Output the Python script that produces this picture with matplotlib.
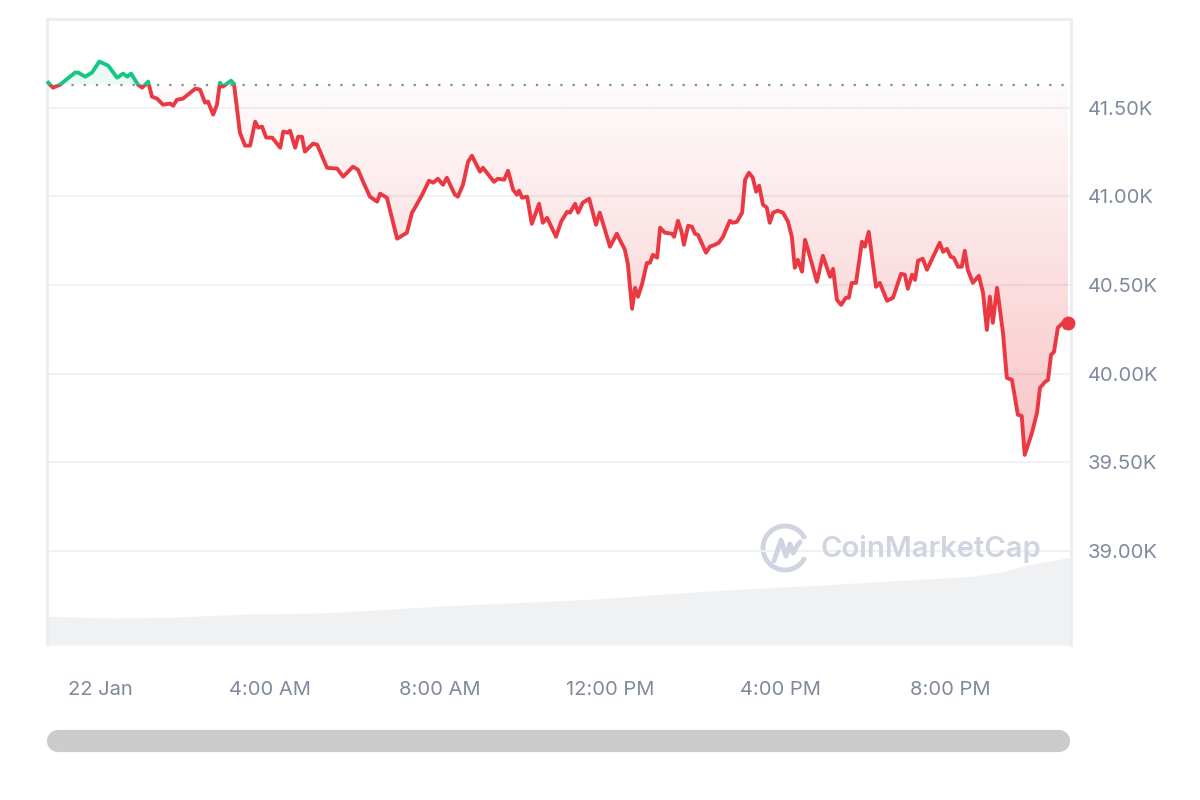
import numpy as np
import matplotlib
matplotlib.use("Agg")
import matplotlib.pyplot as plt
from matplotlib.patches import Arc
from matplotlib.lines import Line2D

# BTC price over one day, hours from midnight 22 Jan, price in USD
hours = [-1.22, -1.11, -0.94, -0.59, -0.52, -0.35, -0.19, -0.02, 0.19, 0.40,
         0.54, 0.64, 0.73, 0.89, 0.99, 1.13, 1.22, 1.34, 1.48, 1.65,
         1.72, 1.81, 1.95, 2.24, 2.35, 2.47, 2.54, 2.66, 2.75, 2.82,
         2.89, 3.08, 3.15, 3.29, 3.41, 3.53, 3.65, 3.72, 3.81, 3.91,
         4.05, 4.24, 4.31, 4.42, 4.47, 4.59, 4.66, 4.75, 4.82, 5.01,
         5.11, 5.34, 5.58, 5.72, 5.95, 6.07, 6.19, 6.35, 6.52, 6.59,
         6.75, 6.99, 7.22, 7.34, 7.41, 7.58, 7.74, 7.84, 7.95, 8.07,
         8.16, 8.35, 8.42, 8.54, 8.66, 8.75, 8.94, 9.01, 9.27, 9.36,
         9.51, 9.60, 9.72, 9.81, 9.86, 9.93, 10.05, 10.16, 10.33, 10.42,
         10.52, 10.73, 10.85, 10.99, 11.06, 11.18, 11.25, 11.36, 11.51, 11.67,
         11.76, 11.86, 12.00, 12.16, 12.35, 12.42, 12.52, 12.59, 12.66, 12.75,
         12.87, 12.94, 13.01, 13.11, 13.18, 13.29, 13.46, 13.51, 13.60, 13.69,
         13.74, 13.84, 13.93, 14.00, 14.07, 14.26, 14.35, 14.47, 14.56, 14.66,
         14.82, 14.89, 14.99, 15.11, 15.18, 15.27, 15.36, 15.44, 15.51, 15.60,
         15.69, 15.76, 15.84, 15.95, 16.07, 16.19, 16.28, 16.35, 16.42, 16.52,
         16.59, 16.66, 16.87, 17.01, 17.18, 17.25, 17.34, 17.44, 17.55, 17.62,
         17.69, 17.79, 17.93, 18.00, 18.09, 18.26, 18.35, 18.52, 18.66, 18.85,
         18.94, 19.01, 19.11, 19.18, 19.25, 19.36, 19.46, 19.76, 19.84, 19.93,
         20.02, 20.09, 20.19, 20.28, 20.35, 20.42, 20.54, 20.68, 20.78, 20.87,
         20.94, 21.01, 21.11, 21.25, 21.34, 21.46, 21.60, 21.69, 21.76, 21.93,
         22.05, 22.12, 22.24, 22.31, 22.38, 22.45, 22.54, 22.66, 22.71, 22.78]
prices = [41641, 41613, 41630, 41698, 41698, 41675, 41698, 41760, 41737, 41669,
          41692, 41675, 41692, 41630, 41613, 41647, 41562, 41551, 41517, 41523,
          41511, 41545, 41551, 41607, 41602, 41528, 41534, 41461, 41517, 41641,
          41619, 41652, 41635, 41359, 41286, 41286, 41421, 41387, 41393, 41331,
          41331, 41274, 41365, 41359, 41370, 41274, 41336, 41336, 41252, 41297,
          41291, 41161, 41156, 41111, 41167, 41150, 41082, 40998, 40970, 41015,
          40992, 40761, 40795, 40908, 40936, 41009, 41088, 41077, 41099, 41065,
          41105, 41009, 40998, 41065, 41195, 41229, 41139, 41161, 41082, 41099,
          41094, 41144, 41037, 41009, 41032, 40992, 40998, 40845, 40958, 40851,
          40879, 40772, 40857, 40913, 40908, 40958, 40908, 40964, 40987, 40840,
          40908, 40828, 40716, 40789, 40699, 40620, 40366, 40484, 40434, 40501,
          40625, 40625, 40670, 40654, 40823, 40795, 40789, 40772, 40862, 40795,
          40727, 40834, 40828, 40789, 40783, 40682, 40716, 40727, 40738, 40772,
          40862, 40851, 40857, 40908, 41094, 41133, 41105, 41026, 41060, 40953,
          40936, 40851, 40908, 40919, 40908, 40857, 40772, 40597, 40642, 40575,
          40755, 40699, 40518, 40665, 40546, 40591, 40417, 40388, 40428, 40428,
          40512, 40512, 40744, 40716, 40800, 40490, 40512, 40411, 40428, 40563,
          40558, 40479, 40558, 40529, 40637, 40648, 40586, 40738, 40687, 40704,
          40659, 40654, 40603, 40603, 40693, 40586, 40512, 40552, 40456, 40247,
          40434, 40287, 40484, 40230, 39976, 39965, 39768, 39762, 39542, 39666,
          39779, 39920, 39954, 39965, 40106, 40123, 40259, 40287, 40259, 40287]
ref_price = 41630

# 24h volume (billions USD)
vol_hours = [-1.25, 0.31, 1.72, 3.46, 5.18, 6.42, 8.0, 9.58, 11.6, 14.28,
             16.47, 18.99, 20.54, 21.2, 21.81, 22.85]
volumes = [10.15, 9.45, 9.8, 10.85, 11.2, 12.25, 13.65, 14.7, 16.1, 18.9,
           20.65, 22.75, 24.15, 25.55, 28.0, 30.8]

tick_hours = [0, 4, 8, 12, 16, 20]
tick_labels = ["22 Jan", "4:00 AM", "8:00 AM", "12:00 PM", "4:00 PM", "8:00 PM"]
price_ticks = [39000, 39500, 40000, 40500, 41000, 41500]

RED = "#ea3943"
GREEN = "#16c784"
GREY_TEXT = "#808a9d"
GRID = "#eff1f4"

plt.rcParams["font.family"] = ["Inter", "DejaVu Sans"]

h = np.array(hours)
p = np.array(prices, dtype=float)
xmin, xmax = -1.25, 22.85
ymin, ymax = 38470, 42000

fig = plt.figure(figsize=(12, 8), dpi=100)
rect = [47 / 1200, 155 / 800, 1024 / 1200, 626 / 800]

# volume area behind
axv = fig.add_axes(rect, zorder=0)
axv.fill_between(vol_hours, volumes, 0, color="#f0f1f3", lw=0)
axv.set_xlim(xmin, xmax)
axv.set_ylim(0, 219.5)
axv.axis("off")

ax = fig.add_axes(rect, zorder=1)
ax.patch.set_alpha(0)
ax.set_xlim(xmin, xmax)
ax.set_ylim(ymin, ymax)

for yv in price_ticks:
    ax.axhline(yv, color=GRID, lw=1.5, zorder=0)

# gradient fill below the reference
below = np.minimum(p, ref_price)
verts = np.column_stack([np.r_[h, h[::-1]], np.r_[below, np.full(len(h), ref_price)]])
poly_r = plt.Polygon(verts, closed=True, facecolor="none", edgecolor="none")
ax.add_patch(poly_r)
n = 256
grad = np.zeros((n, 1, 4))
grad[:, 0, :3] = matplotlib.colors.to_rgb(RED)
grad[:, 0, 3] = np.linspace(0.30, 0.02, n)
im = ax.imshow(grad, extent=[xmin, xmax, p.min(), ref_price], origin="lower",
               aspect="auto", zorder=1)
im.set_clip_path(poly_r)

above = np.maximum(p, ref_price)
ax.fill(np.r_[h, h[::-1]], np.r_[above, np.full(len(h), ref_price)],
        color=GREEN, alpha=0.08, lw=0, zorder=1)

# reference dotted line
ax.axhline(ref_price, color=GREY_TEXT, lw=1.6, linestyle=(0, (1, 4.5)), zorder=2)

# price line, red below / green above the reference
red_line, = ax.plot(h, p, color=RED, lw=2.8, zorder=3, solid_joinstyle="round")
green_line, = ax.plot(h, p, color=GREEN, lw=2.8, zorder=3, solid_joinstyle="round")
clip_below = plt.Rectangle((xmin - 1, ymin), xmax - xmin + 2, ref_price - ymin,
                           transform=ax.transData, fill=False, visible=False)
clip_above = plt.Rectangle((xmin - 1, ref_price), xmax - xmin + 2, ymax - ref_price,
                           transform=ax.transData, fill=False, visible=False)
ax.add_patch(clip_below)
ax.add_patch(clip_above)
red_line.set_clip_path(clip_below)
green_line.set_clip_path(clip_above)
ax.plot(h[-1], p[-1], "o", color=RED, ms=9, zorder=4, clip_on=False)

# axes styling
for side in ["left", "right", "top"]:
    ax.spines[side].set_color("#ebedf0")
    ax.spines[side].set_linewidth(2)
ax.spines["bottom"].set_visible(False)
ax.yaxis.tick_right()
ax.set_yticks(price_ticks)
ax.set_yticklabels([f"{v / 1000:.2f}K" for v in price_ticks])
ax.set_xticks(tick_hours)
ax.set_xticklabels(tick_labels)
ax.tick_params(axis="both", length=0, labelsize=14.5, labelcolor=GREY_TEXT)
ax.tick_params(axis="y", pad=12)
ax.tick_params(axis="x", pad=26)

# scrollbar
fig.add_artist(Line2D([58 / 1200, 1059 / 1200], [1 - 741 / 800] * 2,
                      transform=fig.transFigure, color="#cccccc", lw=16,
                      solid_capstyle="round"))

# watermark
wm = "#cfd4e0"
fig.add_artist(Arc((785 / 1200, 1 - 548 / 800), 44 / 1200, 44 / 800, theta1=35, theta2=325,
                   transform=fig.transFigure, color=wm, lw=3.5))
mx = np.array([774, 781, 786, 790, 793, 797, 800]) / 1200
my = 1 - np.array([561, 540, 556, 544, 553, 546, 542]) / 800
fig.add_artist(Line2D(mx, my, transform=fig.transFigure, color=wm, lw=3.5,
                      solid_joinstyle="round", solid_capstyle="round"))
fig.text(821 / 1200, 1 - 549 / 800, "CoinMarketCap", fontsize=21, color=wm,
         fontweight="semibold", va="center", ha="left")

fig.savefig("out.png", dpi=100, facecolor="white")
